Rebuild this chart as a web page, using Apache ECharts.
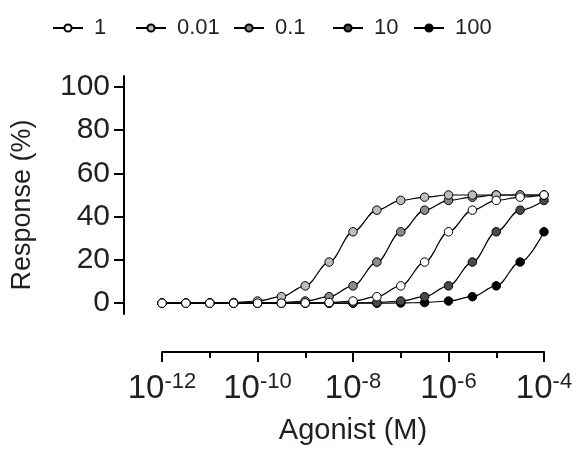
<!DOCTYPE html>
<html>
<head>
<meta charset="utf-8">
<script src="https://cdn.jsdelivr.net/npm/echarts@6/dist/echarts.min.js"></script>
<style>
html,body{margin:0;padding:0;background:#fff;}
#chart{width:577px;height:450px;}
</style>
</head>
<body>
<div id="chart"></div>
<script>
// log10 of agonist concentration (M)
const logDose = [-12,-11.5,-11,-10.5,-10,-9.5,-9,-8.5,-8,-7.5,-7,-6.5,-6,-5.5,-5,-4.5,-4];
const seriesNames = ['1','0.01','0.1','10','100'];
const resp_1    = [0,0,0,0,0,0,0.1,0.3,1,3,8,19,33,43,47.5,49,50];
const resp_0_01 = [0,0,0.1,0.3,1,3,8,19,33,43,47.5,49,50,50,50,50,50];
const resp_0_1  = [0,0,0,0,0.1,0.3,1,3,8,19,33,43,47.5,49,50,50,50];
const resp_10   = [0,0,0,0,0,0,0,0,0.1,0.3,1,3,8,19,33,43,47.5];
const resp_100  = [0,0,0,0,0,0,0,0,0,0,0.1,0.3,1,3,8,19,33];
const xTicks = [-12,-10,-8,-6,-4];
const yTicks = [0,20,40,60,80,100];

const fills = {'1':'#ffffff','0.01':'#bdbdbd','0.1':'#8a8a8a','10':'#4a4a4a','100':'#000000'};
const dataMap = {'1':resp_1,'0.01':resp_0_01,'0.1':resp_0_1,'10':resp_10,'100':resp_100};
const drawOrder = ['100','10','0.1','0.01','1'];
const FONT = 'Liberation Sans, Arial, Helvetica, sans-serif';
const TXT = '#231f20';

const series = drawOrder.map((name, i) => ({
  name: name,
  type: 'line',
  smooth: 0.35,
  smoothMonotone: 'x',
  symbol: 'circle',
  symbolSize: 8.5,
  z: 2 + i,
  data: logDose.map((d, k) => [d, dataMap[name][k]]),
  lineStyle: {color: '#000', width: 1.2},
  itemStyle: {color: fills[name], borderColor: '#000', borderWidth: 1},
  emphasis: {disabled: true}
}));

const legendLeft = [52, 135, 233, 332, 413];
const legends = seriesNames.map((n, i) => ({
  data: [n],
  left: legendLeft[i],
  top: 17,
  padding: 0,
  itemWidth: 30,
  itemHeight: 9,
  itemGap: 0,
  selectedMode: false,
  textStyle: {fontFamily: FONT, fontSize: 22, color: TXT, padding: [0,0,0,6]}
}));

const chart = echarts.init(document.getElementById('chart'), null, {renderer: 'canvas'});
chart.setOption({
  animation: false,
  backgroundColor: '#fff',
  legend: legends,
  grid: {left: 162, right: 33, top: 76, bottom: 134, containLabel: false},
  xAxis: {
    type: 'value', min: -12, max: -4, interval: 2,
    offset: 38,
    name: 'Agonist (M)', nameLocation: 'middle', nameGap: 64,
    nameTextStyle: {fontFamily: FONT, fontSize: 29, color: TXT},
    axisLine: {show: true, onZero: false, lineStyle: {color: '#000', width: 2}},
    axisTick: {show: true, length: 10, lineStyle: {color: '#000', width: 2}},
    minorTick: {show: true, splitNumber: 2, length: 6, lineStyle: {color: '#000', width: 2}},
    splitLine: {show: false},
    minorSplitLine: {show: false},
    axisLabel: {
      margin: 19,
      formatter: v => '{b|10}{s|' + v + '}',
      rich: {
        b: {fontFamily: FONT, fontSize: 33, color: TXT, lineHeight: 35},
        s: {fontFamily: FONT, fontSize: 22, color: TXT, verticalAlign: 'top', lineHeight: 22}
      }
    }
  },
  yAxis: {
    type: 'value', min: -5, max: 105,
    offset: 38,
    name: 'Response (%)', nameLocation: 'middle', nameGap: 88,
    nameTextStyle: {fontFamily: FONT, fontSize: 27, color: TXT, padding: [0, 20, 0, 0]},
    axisLine: {show: true, onZero: false, lineStyle: {color: '#000', width: 2}},
    axisTick: {show: true, length: 10, customValues: yTicks, lineStyle: {color: '#000', width: 2}},
    splitLine: {show: false},
    axisLabel: {customValues: yTicks, margin: 14, fontFamily: FONT, fontSize: 30, color: TXT}
  },
  series: series
});
</script>
</body>
</html>
